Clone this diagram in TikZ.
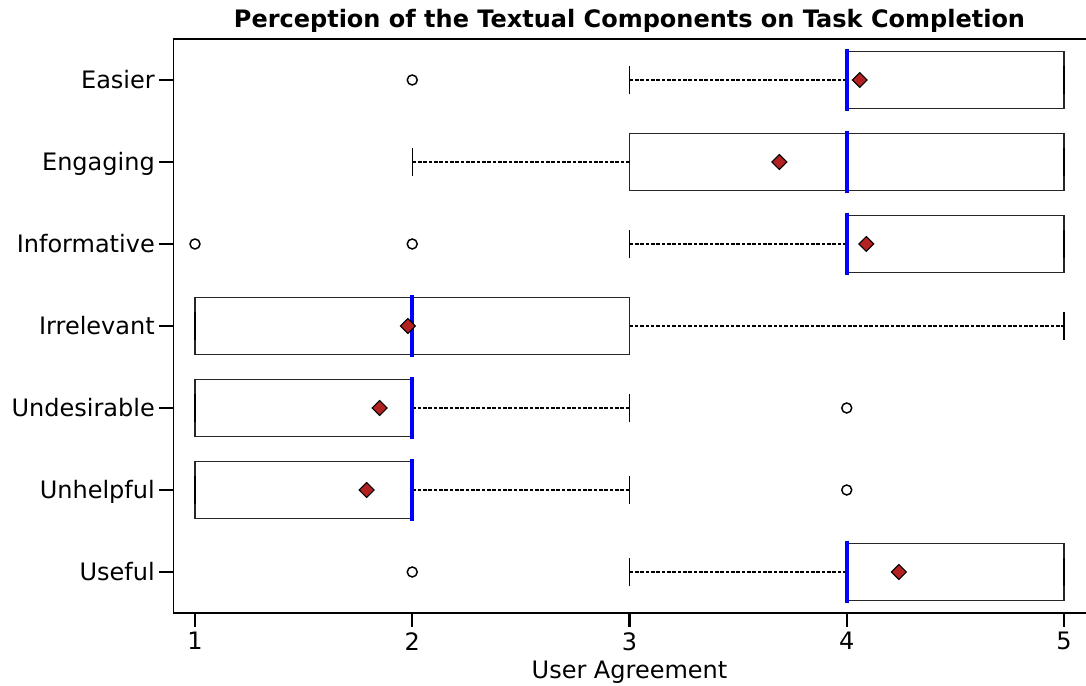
\documentclass[tikz,border=0pt]{standalone}
\usepackage{fontspec}
\setmainfont{DejaVu Sans}
\usetikzlibrary{shapes.geometric}
\definecolor{firebrick}{HTML}{B22222}

\begin{document}
\begin{tikzpicture}[x=162.9375pt, y=61.5pt, font=\fontsize{18}{21.6}\selectfont]

\tikzstyle{spine} = [draw=black, line width=0.8pt]
\tikzstyle{tk} = [draw=black, line width=1.6pt]
\tikzstyle{bx} = [draw=black!85, line width=1.1pt]
\tikzstyle{wh} = [draw=black, line width=0.9pt, dash pattern=on 2.7pt off 1.3pt]
\tikzstyle{whcap} = [draw=black, line width=1.1pt]
\tikzstyle{med} = [draw=blue, line width=3pt, line cap=rect]
\tikzstyle{flier} = [circle, draw=black, fill=white, minimum size=7.5pt, inner sep=0pt, line width=1.1pt]
\tikzstyle{avg} = [diamond, draw=black, fill=firebrick, minimum size=11.5pt, inner sep=0pt, line width=0.8pt]
\tikzstyle{ylab} = [anchor=base east, inner sep=0pt]
\tikzstyle{xlab} = [anchor=north, inner sep=0pt]

\useasboundingbox (0.1024,-0.3902) rectangle (5.1013,7.9756);

% frame and ticks
\draw[spine] (5.1013,7.5) -- (0.9,7.5) -- (0.9,0.5) -- (5.1013,0.5);
\draw[tk] (0.9,7) -- ++(-10.5pt,0);
\draw[tk] (0.9,6) -- ++(-10.5pt,0);
\draw[tk] (0.9,5) -- ++(-10.5pt,0);
\draw[tk] (0.9,4) -- ++(-10.5pt,0);
\draw[tk] (0.9,3) -- ++(-10.5pt,0);
\draw[tk] (0.9,2) -- ++(-10.5pt,0);
\draw[tk] (0.9,1) -- ++(-10.5pt,0);
\draw[tk] (1,0.5) -- ++(0,-10.5pt);
\draw[tk] (2,0.5) -- ++(0,-10.5pt);
\draw[tk] (3,0.5) -- ++(0,-10.5pt);
\draw[tk] (4,0.5) -- ++(0,-10.5pt);
\draw[tk] (5,0.5) -- ++(0,-10.5pt);

\node (lEasier) [ylab] at (0.816,6.893) {Easier};
\node (lEngaging) [ylab] at (0.816,5.893) {Engaging};
\node (lInformative) [ylab] at (0.816,4.893) {Informative};
\node (lIrrelevant) [ylab] at (0.816,3.893) {Irrelevant};
\node (lUndesirable) [ylab] at (0.816,2.893) {Undesirable};
\node (lUnhelpful) [ylab] at (0.816,1.893) {Unhelpful};
\node (lUseful) [ylab] at (0.816,0.893) {Useful};
\node (x1) [xlab] at (1,0.268) {1};
\node (x2) [xlab] at (2,0.268) {2};
\node (x3) [xlab] at (3,0.268) {3};
\node (x4) [xlab] at (4,0.268) {4};
\node (x5) [xlab] at (5,0.268) {5};
\node (xtitle) [anchor=base] at (3,-0.305) {User Agreement};
\node (title) [anchor=base, font=\fontsize{18}{21.6}\selectfont\bfseries] at (3,7.646) {Perception of the Textual Components on Task Completion};

% Easier
\draw[bx] (4,6.65) rectangle (5,7.35);
\draw[wh] (4,7) -- (3,7);
\draw[whcap] (3,6.825) -- (3,7.175);
\draw[whcap] (5,6.825) -- (5,7.175);
\draw[med] (4,6.65) -- (4,7.35);
\node (fEasier) [flier] at (2,7) {};

% Engaging
\draw[bx] (3,5.65) rectangle (5,6.35);
\draw[wh] (3,6) -- (2,6);
\draw[whcap] (2,5.825) -- (2,6.175);
\draw[whcap] (5,5.825) -- (5,6.175);
\draw[med] (4,5.65) -- (4,6.35);

% Informative
\draw[bx] (4,4.65) rectangle (5,5.35);
\draw[wh] (4,5) -- (3,5);
\draw[whcap] (3,4.825) -- (3,5.175);
\draw[whcap] (5,4.825) -- (5,5.175);
\draw[med] (4,4.65) -- (4,5.35);
\node (fInformativeA) [flier] at (1,5) {};
\node (fInformativeB) [flier] at (2,5) {};

% Irrelevant
\draw[bx] (1,3.65) rectangle (3,4.35);
\draw[wh] (3,4) -- (5,4);
\draw[whcap] (1,3.825) -- (1,4.175);
\draw[whcap] (5,3.825) -- (5,4.175);
\draw[med] (2,3.65) -- (2,4.35);

% Undesirable
\draw[bx] (1,2.65) rectangle (2,3.35);
\draw[wh] (2,3) -- (3,3);
\draw[whcap] (1,2.825) -- (1,3.175);
\draw[whcap] (3,2.825) -- (3,3.175);
\draw[med] (2,2.65) -- (2,3.35);
\node (fUndesirable) [flier] at (4,3) {};

% Unhelpful
\draw[bx] (1,1.65) rectangle (2,2.35);
\draw[wh] (2,2) -- (3,2);
\draw[whcap] (1,1.825) -- (1,2.175);
\draw[whcap] (3,1.825) -- (3,2.175);
\draw[med] (2,1.65) -- (2,2.35);
\node (fUnhelpful) [flier] at (4,2) {};

% Useful
\draw[bx] (4,0.65) rectangle (5,1.35);
\draw[wh] (4,1) -- (3,1);
\draw[whcap] (3,0.825) -- (3,1.175);
\draw[whcap] (5,0.825) -- (5,1.175);
\draw[med] (4,0.65) -- (4,1.35);
\node (fUseful) [flier] at (2,1) {};

% means
\node (mEasier) [avg] at (4.06,7) {};
\node (mEngaging) [avg] at (3.69,6) {};
\node (mInformative) [avg] at (4.09,5) {};
\node (mIrrelevant) [avg] at (1.98,4) {};
\node (mUndesirable) [avg] at (1.85,3) {};
\node (mUnhelpful) [avg] at (1.79,2) {};
\node (mUseful) [avg] at (4.24,1) {};
\end{tikzpicture}
\end{document}
